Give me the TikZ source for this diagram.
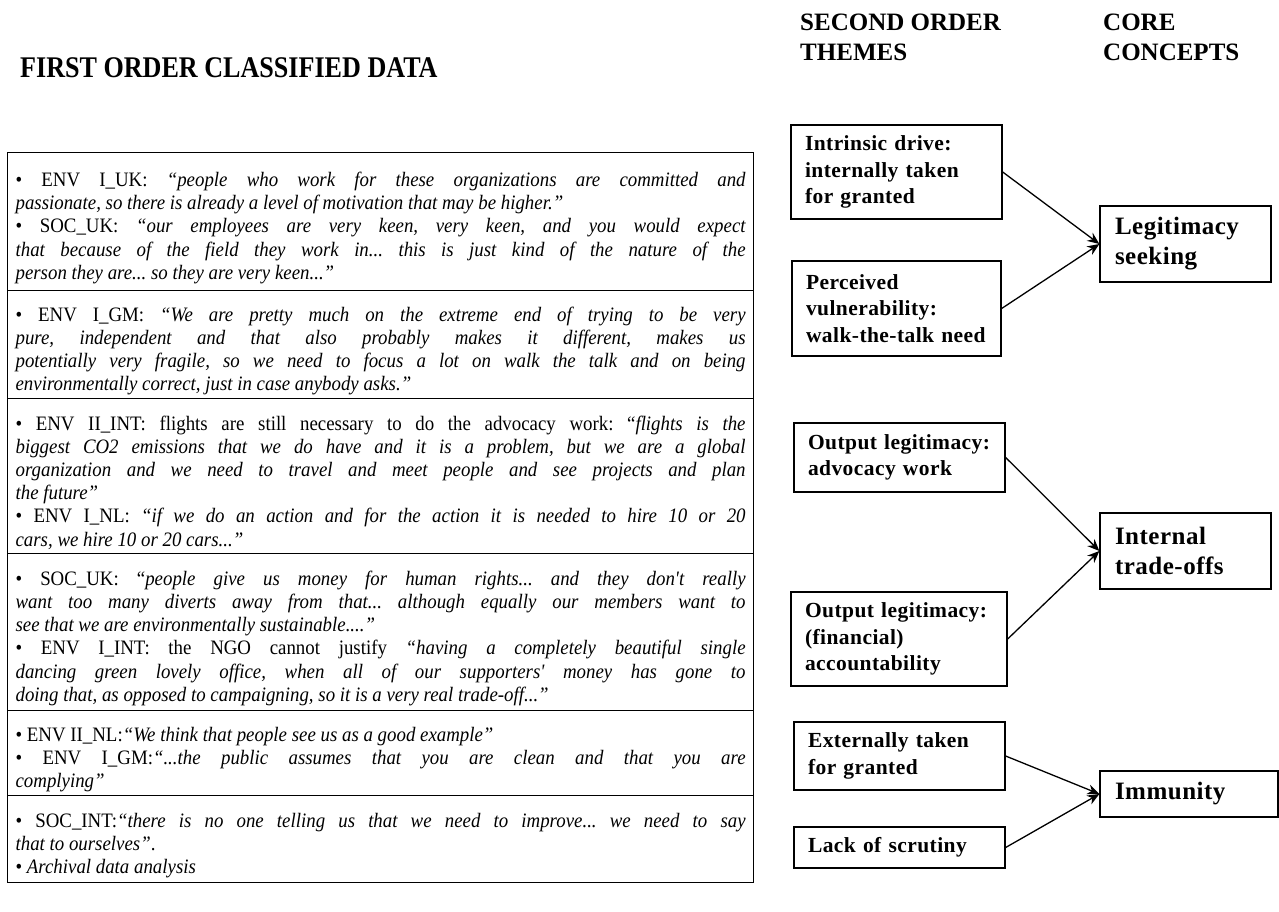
\documentclass[tikz,border=0pt]{standalone}
\usepackage{fontspec}
\setmainfont{Liberation Serif}
\newfontfamily\condfont{Liberation Serif}[FakeStretch=0.92]
\newfontfamily\headcond{Liberation Serif}[FakeStretch=0.87]
\newfontfamily\spacedfont{Liberation Serif}[LetterSpace=2.0]
\usetikzlibrary{arrows.meta}
\setlength{\parindent}{0pt}
\setlength{\parskip}{0pt}
\frenchspacing
\newcommand{\firstlinestrut}{\rule{0pt}{27pt}}
\begin{document}
\begin{tikzpicture}[x=1pt,y=-1pt,
  rowbox/.style={draw, line width=1.2pt, anchor=north west, minimum width=746pt,
    text width=730pt, inner xsep=8pt, inner ysep=0pt, align=justify,
    font=\condfont\fontsize{20.5}{23.2}\selectfont\frenchspacing},
  theme/.style={draw, line width=1.3pt, align=left, inner xsep=14pt, inner ysep=0pt,
    font=\spacedfont\bfseries\fontsize{21.5}{26.5}\selectfont},
  core/.style={draw, line width=1.3pt, align=left, inner xsep=15pt, inner ysep=0pt,
    font=\spacedfont\bfseries\fontsize{25}{30}\selectfont},
  head/.style={align=left, inner sep=0pt, anchor=west,
    font=\bfseries\fontsize{25}{30}\selectfont},
  arr/.style={line width=1.3pt, -{Stealth[length=12pt,width=10pt]}}]
\useasboundingbox (0,0) rectangle (1279,912);

% headers
\node[anchor=west, inner sep=0pt, font=\headcond\bfseries\fontsize{30}{32}\selectfont] (h1) at (20,68) {FIRST ORDER CLASSIFIED DATA};
\node[head] (h2) at (800,37) {SECOND ORDER\\THEMES};
\node[head] (h3) at (1103,37) {CORE\\CONCEPTS};

% first order rows
\node[rowbox, minimum height=138pt] (r1) at (7,152) {%
\firstlinestrut\textbullet\ ENV I\_UK: \textit{“people who work for these organizations are committed and\linebreak passionate, so there is already a level of motivation that may be higher.”}\par
\textbullet\ SOC\_UK: \textit{“our employees are very keen, very keen, and you would expect\linebreak that because of the field they work in... this is just kind of the nature of the\linebreak person they are... so they are very keen...”}};

\node[rowbox, minimum height=108pt] (r2) at (7,290) {%
\firstlinestrut\textbullet\ ENV I\_GM: \textit{“We are pretty much on the extreme end of trying to be very\linebreak pure, independent and that also probably makes it different, makes us\linebreak potentially very fragile, so we need to focus a lot on walk the talk and on being\linebreak environmentally correct, just in case anybody asks.”}};

\node[rowbox, minimum height=155pt] (r3) at (7,398) {%
\firstlinestrut\textbullet\ ENV II\_INT: flights are still necessary to do the advocacy work: “\textit{flights is the\linebreak biggest CO2 emissions that we do have and it is a problem, but we are a global\linebreak organization and we need to travel and meet people and see projects and plan\linebreak the future”}\par
\textbullet\ ENV I\_NL: \textit{“if we do an action and for the action it is needed to hire 10 or 20\linebreak cars, we hire 10 or 20 cars...”}};

\node[rowbox, minimum height=157pt] (r4) at (7,553) {%
\firstlinestrut\textbullet\ SOC\_UK: “\textit{people give us money for human rights... and they don't really\linebreak want too many diverts away from that... although equally our members want to\linebreak see that we are environmentally sustainable....”}\par
\textbullet\ ENV I\_INT: the NGO cannot justify \textit{“having a completely beautiful single\linebreak dancing green lovely office, when all of our supporters' money has gone to\linebreak doing that, as opposed to campaigning, so it is a very real trade-off...”}};

\node[rowbox, minimum height=85pt] (r5) at (7,710) {%
\firstlinestrut\textbullet\ ENV II\_NL:\textit{“We think that people see us as a good example”}\par
\textbullet\ ENV I\_GM:\textit{“...the public assumes that you are clean and that you are\linebreak complying”}};

\node[rowbox, minimum height=87pt] (r6) at (7,795) {%
\firstlinestrut\textbullet\ SOC\_INT:\textit{“there is no one telling us that we need to improve... we need to say\linebreak that to ourselves”}.\par
\textbullet\ \textit{Archival data analysis}};

% second order themes
\node[theme, text width=183pt, minimum height=94pt] (t1) at (896.5,172) {Intrinsic drive:\\internally taken\\for granted};
\node[theme, text width=181pt, minimum height=95pt] (t2) at (896.5,308.5) {Perceived\\vulnerability:\\walk-the-talk need};
\node[theme, text width=183pt, minimum height=69pt] (t3) at (899.5,457.5) {Output legitimacy:\\advocacy work};
\node[theme, text width=188pt, minimum height=94pt] (t4) at (899,639) {Output legitimacy:\\(financial)\\accountability};
\node[theme, text width=183pt, minimum height=68pt] (t5) at (899.5,756) {Externally taken\\for granted};
\node[theme, text width=183pt, minimum height=41pt] (t6) at (899.5,847.5) {Lack of scrutiny};

% core concepts
\node[core, text width=141pt, minimum height=76pt] (c1) at (1185.5,244) {Legitimacy\\seeking};
\node[core, text width=141pt, minimum height=76pt] (c2) at (1185.5,551) {Internal\\trade-offs};
\node[core, text width=148pt, minimum height=46pt] (c3) at (1189,794) {Immunity};

% connectors
\draw[arr] (t1.east) -- (c1.west);
\draw[arr] (t2.east) -- (c1.west);
\draw[arr] (t3.east) -- (c2.west);
\draw[arr] (t4.east) -- (c2.west);
\draw[arr] (t5.east) -- (c3.west);
\draw[arr] (t6.east) -- (c3.west);
\end{tikzpicture}
\end{document}
